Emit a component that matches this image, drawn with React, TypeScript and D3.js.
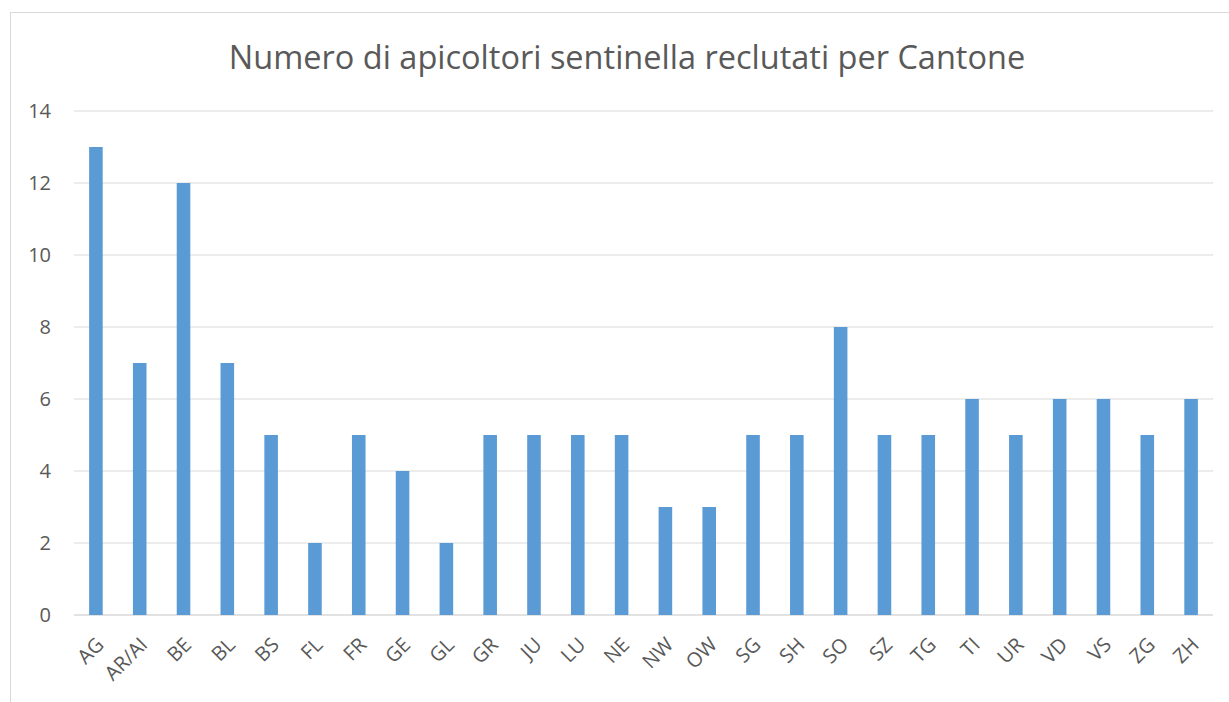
import React, { useEffect, useRef } from 'react';
import * as d3 from 'd3';

const cantons = ['AG', 'AR/AI', 'BE', 'BL', 'BS', 'FL', 'FR', 'GE', 'GL', 'GR', 'JU', 'LU', 'NE', 'NW', 'OW', 'SG', 'SH', 'SO', 'SZ', 'TG', 'TI', 'UR', 'VD', 'VS', 'ZG', 'ZH'];
const apicoltori = [13, 7, 12, 7, 5, 2, 5, 4, 2, 5, 5, 5, 5, 3, 3, 5, 5, 8, 5, 5, 6, 5, 6, 6, 5, 6];
const yTicks = [0, 2, 4, 6, 8, 10, 12, 14];

const App: React.FC = () => {
  const svgRef = useRef<SVGSVGElement>(null);

  useEffect(() => {
    if (!svgRef.current) return;
    const svg = d3.select(svgRef.current);
    svg.selectAll('*').remove();

    const width = 1229;
    const height = 702;
    const margin = { top: 111, right: 16, bottom: 87, left: 74 };
    const innerWidth = width - margin.left - margin.right;
    const innerHeight = height - margin.top - margin.bottom;
    const font = '"Open Sans", "Noto Sans", sans-serif';
    const textColor = '#595959';

    // chart frame
    svg.append('rect')
      .attr('x', 10.5)
      .attr('y', 12.5)
      .attr('width', width + 20)
      .attr('height', height + 20)
      .attr('fill', '#fff')
      .attr('stroke', '#d9d9d9')
      .attr('stroke-width', 1);

    const g = svg.append('g').attr('transform', `translate(${margin.left},${margin.top})`);

    const x = d3.scaleBand<string>()
      .domain(cantons)
      .range([0, innerWidth])
      .paddingInner(0.69)
      .paddingOuter(0.345);

    const y = d3.scaleLinear().domain([0, 14]).range([innerHeight, 0]);

    // gridlines
    g.selectAll('.grid')
      .data(yTicks)
      .enter()
      .append('line')
      .attr('x1', 0)
      .attr('x2', innerWidth)
      .attr('y1', d => y(d))
      .attr('y2', d => y(d))
      .attr('stroke', '#d9d9d9')
      .attr('stroke-width', d => (d === 0 ? 1.5 : 1));

    // y labels
    g.selectAll('.ylab')
      .data(yTicks)
      .enter()
      .append('text')
      .attr('x', -23)
      .attr('y', d => y(d))
      .attr('dy', '0.36em')
      .attr('text-anchor', 'end')
      .attr('fill', textColor)
      .style('font-family', font)
      .style('font-size', '20px')
      .text(d => d);

    // bars
    g.selectAll('.bar')
      .data(cantons)
      .enter()
      .append('rect')
      .attr('x', d => x(d) || 0)
      .attr('y', (d, i) => y(apicoltori[i]))
      .attr('width', x.bandwidth())
      .attr('height', (d, i) => innerHeight - y(apicoltori[i]))
      .attr('fill', '#5b9bd5');

    // x labels rotated
    g.selectAll('.xlab')
      .data(cantons)
      .enter()
      .append('text')
      .attr('transform', d => `translate(${(x(d) || 0) + x.bandwidth() / 2 - 1},${innerHeight + 21}) rotate(-45)`)
      .attr('dy', '0.71em')
      .attr('text-anchor', 'end')
      .attr('fill', textColor)
      .style('font-family', font)
      .style('font-size', '20px')
      .text(d => d);

    // title
    svg.append('text')
      .attr('x', 627)
      .attr('y', 69)
      .attr('text-anchor', 'middle')
      .attr('fill', textColor)
      .style('font-family', font)
      .style('font-size', '32.5px')
      .text('Numero di apicoltori sentinella reclutati per Cantone');
  }, []);

  return (
    <svg
      ref={svgRef}
      width={1229}
      height={702}
      style={{ position: 'absolute', left: 0, top: 0, display: 'block', background: '#fff' }}
    />
  );
};

export default App;
